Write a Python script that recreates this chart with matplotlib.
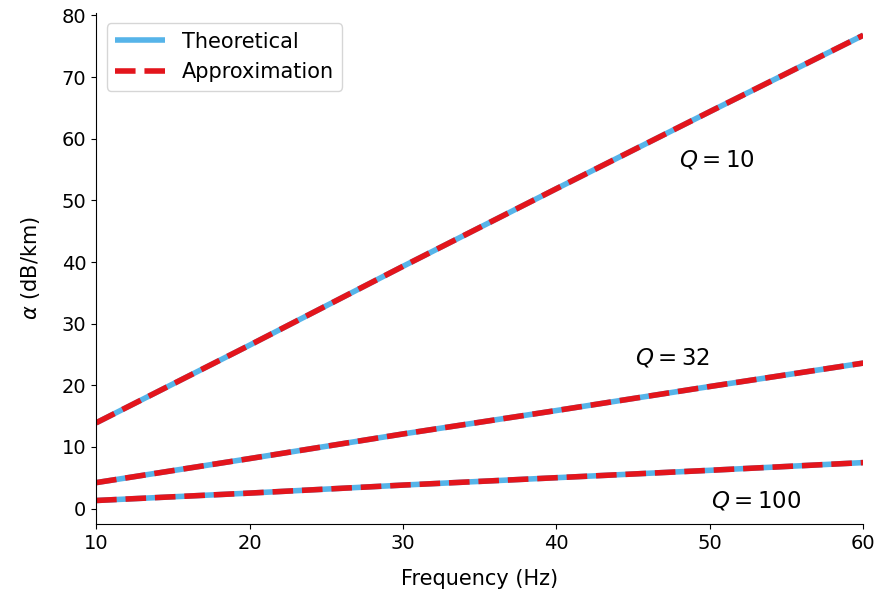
import numpy as np
import matplotlib
matplotlib.use("Agg")
import matplotlib.pyplot as plt

# attenuation vs frequency for three Q values
freq = [10, 20, 30, 40, 50, 60]
alpha_q10 = [13.9, 26.5, 39.3, 51.9, 64.4, 76.8]
alpha_q32 = [4.2, 8.1, 12.1, 15.9, 19.8, 23.6]
alpha_q100 = [1.3, 2.5, 3.8, 5.0, 6.2, 7.45]

curves = [alpha_q10, alpha_q32, alpha_q100]
labels = [r"$Q = 10$", r"$Q = 32$", r"$Q = 100$"]
label_pos = [(48.0, 56.6), (45.1, 24.4), (50.1, 1.3)]

blue = "#56b4e9"
red = "#e3151c"

fig = plt.figure(figsize=(8.9, 5.92), dpi=100)
ax = fig.add_axes([0.108, 0.115, 0.862, 0.863])

for i, a in enumerate(curves):
    ax.plot(freq, a, color=blue, lw=4, solid_capstyle="butt",
            label="Theoretical" if i == 0 else None)
    ax.plot(freq, a, color=red, lw=4, ls="--",
            label="Approximation" if i == 0 else None)

for txt, (x, y) in zip(labels, label_pos):
    ax.text(x, y, txt, fontsize=16.5, va="center", ha="left")

ax.set_xlim(10, 60)
ax.set_ylim(-2.5, 80.4)
ax.set_xticks([10, 20, 30, 40, 50, 60])
ax.set_yticks(np.arange(0, 81, 10))
ax.tick_params(labelsize=14)
ax.set_xlabel("Frequency (Hz)", fontsize=15, labelpad=12)
ax.set_ylabel(r"$\alpha$ (dB/km)", fontsize=15, labelpad=14)
ax.spines["top"].set_visible(False)
ax.spines["right"].set_visible(False)
ax.legend(loc="upper left", fontsize=15, handlelength=2.4)

fig.savefig("out.png", dpi=100)
